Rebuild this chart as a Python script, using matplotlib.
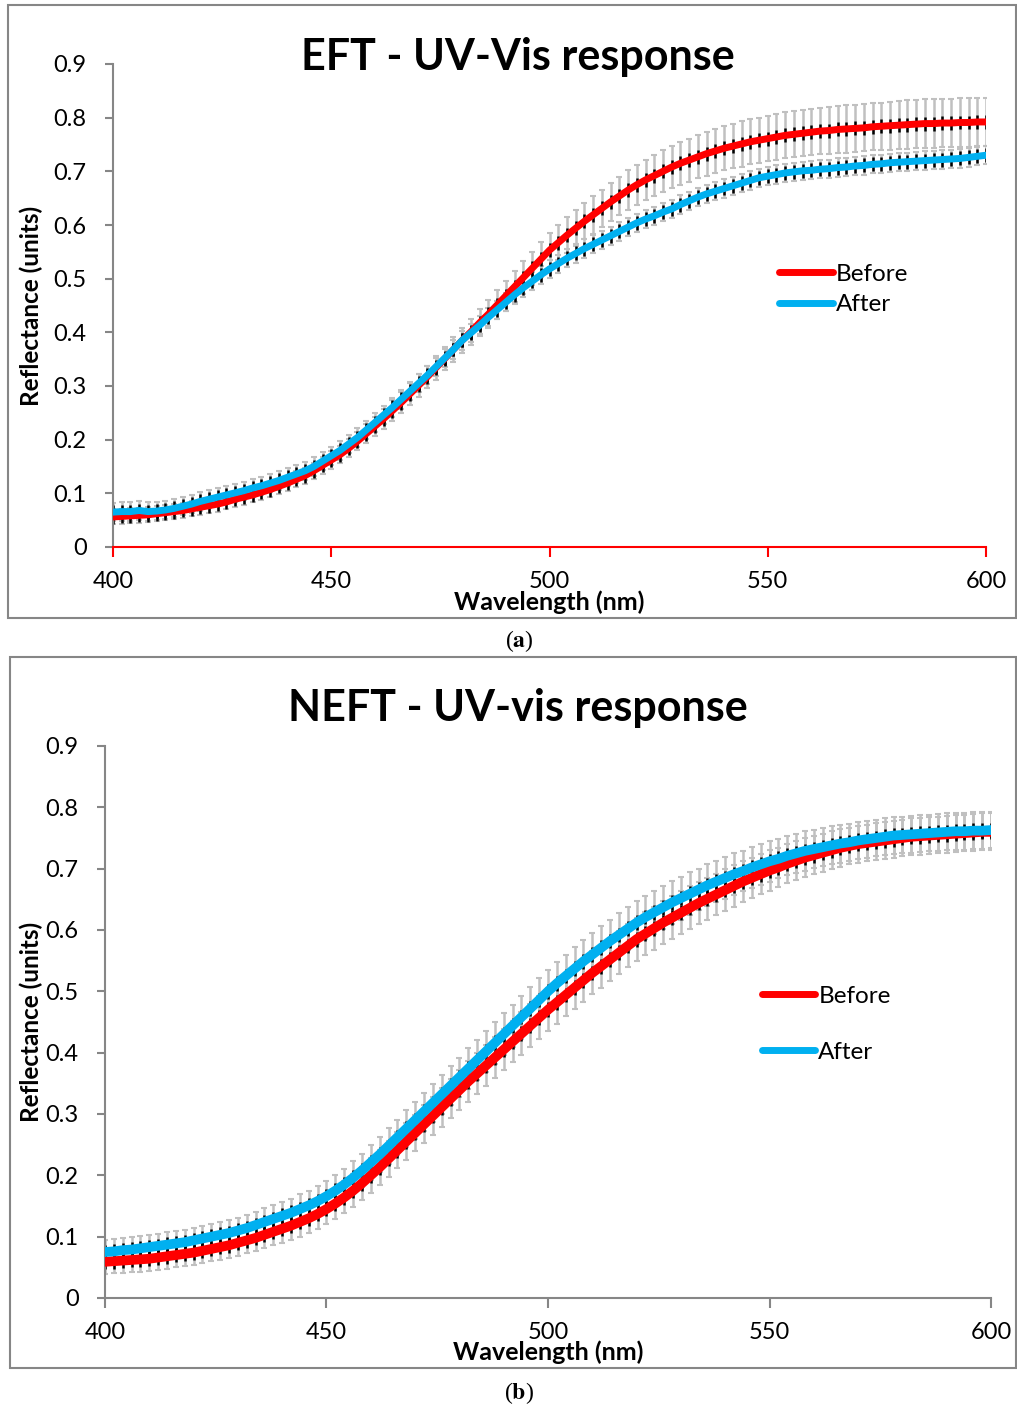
import numpy as np
import matplotlib
matplotlib.use("Agg")
import matplotlib.pyplot as plt
from matplotlib.patches import Rectangle

plt.rcParams['font.family'] = ['Lato', 'DejaVu Sans']
plt.rcParams['mathtext.fontset'] = 'stix'

# wavelength grid (nm), every 2 nm
wl = np.arange(400, 601, 2)

# panel (a) EFT
eft_before = [0.056, 0.057, 0.058, 0.059, 0.060, 0.062, 0.064, 0.066, 0.068, 0.071,
              0.074, 0.077, 0.080, 0.084, 0.089, 0.093, 0.097, 0.102, 0.107, 0.113,
              0.119, 0.126, 0.133, 0.142, 0.152, 0.162, 0.172, 0.184, 0.197, 0.211,
              0.225, 0.239, 0.254, 0.269, 0.285, 0.301, 0.317, 0.334, 0.351, 0.368,
              0.385, 0.401, 0.418, 0.434, 0.451, 0.468, 0.485, 0.502, 0.519, 0.536,
              0.553, 0.567, 0.581, 0.594, 0.607, 0.619, 0.631, 0.643, 0.654, 0.665,
              0.675, 0.684, 0.692, 0.700, 0.708, 0.715, 0.721, 0.727, 0.733, 0.738,
              0.743, 0.747, 0.751, 0.755, 0.758, 0.761, 0.764, 0.767, 0.769, 0.771,
              0.773, 0.775, 0.776, 0.778, 0.779, 0.780, 0.781, 0.783, 0.784, 0.785,
              0.786, 0.787, 0.788, 0.789, 0.789, 0.790, 0.790, 0.791, 0.791, 0.792, 0.792]
eft_after = [0.065, 0.066, 0.066, 0.068, 0.066, 0.067, 0.069, 0.072, 0.076, 0.080,
             0.085, 0.089, 0.093, 0.097, 0.101, 0.105, 0.110, 0.114, 0.119, 0.124,
             0.130, 0.136, 0.142, 0.150, 0.160, 0.170, 0.180, 0.192, 0.204, 0.218,
             0.232, 0.246, 0.260, 0.275, 0.290, 0.305, 0.320, 0.336, 0.352, 0.368,
             0.385, 0.399, 0.413, 0.428, 0.442, 0.456, 0.470, 0.483, 0.495, 0.507,
             0.518, 0.528, 0.538, 0.547, 0.556, 0.564, 0.572, 0.580, 0.588, 0.596,
             0.604, 0.611, 0.617, 0.624, 0.630, 0.638, 0.645, 0.652, 0.658, 0.663,
             0.668, 0.673, 0.678, 0.683, 0.688, 0.691, 0.694, 0.697, 0.699, 0.701,
             0.702, 0.704, 0.705, 0.707, 0.708, 0.710, 0.711, 0.713, 0.714, 0.716,
             0.717, 0.718, 0.719, 0.720, 0.721, 0.722, 0.723, 0.724, 0.726, 0.728, 0.730]
eft_before_sd = [0.014, 0.014, 0.014, 0.014, 0.014, 0.014, 0.014, 0.014, 0.014, 0.014,
                 0.014, 0.014, 0.014, 0.014, 0.014, 0.014, 0.014, 0.014, 0.014, 0.014,
                 0.014, 0.015, 0.015, 0.015, 0.016, 0.016, 0.016, 0.017, 0.017, 0.018,
                 0.018, 0.019, 0.019, 0.020, 0.020, 0.021, 0.021, 0.022, 0.022, 0.023,
                 0.023, 0.024, 0.025, 0.026, 0.027, 0.028, 0.029, 0.030, 0.031, 0.032,
                 0.032, 0.033, 0.033, 0.034, 0.034, 0.035, 0.035, 0.036, 0.036, 0.037,
                 0.037, 0.038, 0.038, 0.039, 0.039, 0.040, 0.040, 0.040, 0.041, 0.041,
                 0.041, 0.041, 0.042, 0.042, 0.042, 0.042, 0.043, 0.043, 0.043, 0.043,
                 0.043, 0.043, 0.044, 0.044, 0.044, 0.044, 0.044, 0.044, 0.044, 0.045,
                 0.045, 0.045, 0.045, 0.045, 0.045, 0.045, 0.045, 0.045, 0.045, 0.045, 0.045]
eft_after_sd = 0.017
eft_se = 0.013

# panel (b) NEFT
neft_before = [0.059, 0.060, 0.061, 0.062, 0.063, 0.064, 0.066, 0.068, 0.070, 0.072,
               0.074, 0.077, 0.080, 0.083, 0.086, 0.090, 0.094, 0.098, 0.103, 0.108,
               0.113, 0.118, 0.124, 0.130, 0.137, 0.145, 0.154, 0.164, 0.175, 0.187,
               0.200, 0.213, 0.227, 0.241, 0.255, 0.269, 0.283, 0.297, 0.311, 0.325,
               0.339, 0.353, 0.366, 0.379, 0.392, 0.405, 0.418, 0.431, 0.444, 0.457,
               0.470, 0.482, 0.494, 0.506, 0.518, 0.530, 0.541, 0.552, 0.563, 0.574,
               0.585, 0.594, 0.603, 0.612, 0.620, 0.628, 0.636, 0.644, 0.651, 0.658,
               0.665, 0.672, 0.679, 0.685, 0.691, 0.697, 0.702, 0.708, 0.713, 0.718,
               0.722, 0.726, 0.730, 0.734, 0.737, 0.740, 0.742, 0.744, 0.746, 0.748,
               0.750, 0.752, 0.753, 0.754, 0.755, 0.756, 0.757, 0.758, 0.759, 0.760, 0.760]
neft_after = [0.075, 0.076, 0.078, 0.079, 0.081, 0.083, 0.085, 0.087, 0.089, 0.091,
              0.094, 0.097, 0.100, 0.103, 0.106, 0.110, 0.114, 0.119, 0.124, 0.129,
              0.134, 0.139, 0.145, 0.151, 0.158, 0.166, 0.175, 0.185, 0.196, 0.208,
              0.221, 0.234, 0.248, 0.262, 0.276, 0.290, 0.304, 0.318, 0.332, 0.346,
              0.360, 0.374, 0.388, 0.402, 0.416, 0.430, 0.444, 0.458, 0.472, 0.486,
              0.500, 0.513, 0.525, 0.537, 0.549, 0.560, 0.571, 0.582, 0.592, 0.602,
              0.612, 0.621, 0.629, 0.637, 0.645, 0.652, 0.659, 0.666, 0.673, 0.679,
              0.685, 0.691, 0.696, 0.702, 0.707, 0.712, 0.716, 0.721, 0.725, 0.729,
              0.732, 0.735, 0.738, 0.741, 0.743, 0.746, 0.748, 0.750, 0.752, 0.754,
              0.755, 0.756, 0.757, 0.758, 0.759, 0.760, 0.761, 0.761, 0.762, 0.762, 0.763]
neft_sd = [0.020, 0.020, 0.020, 0.020, 0.020, 0.020, 0.020, 0.020, 0.020, 0.020,
           0.020, 0.020, 0.020, 0.021, 0.021, 0.021, 0.021, 0.022, 0.022, 0.022,
           0.023, 0.023, 0.024, 0.024, 0.025, 0.025, 0.026, 0.026, 0.027, 0.027,
           0.028, 0.028, 0.029, 0.029, 0.030, 0.030, 0.031, 0.031, 0.032, 0.032,
           0.032, 0.033, 0.033, 0.033, 0.034, 0.034, 0.034, 0.035, 0.035, 0.035,
           0.035, 0.035, 0.035, 0.035, 0.035, 0.035, 0.035, 0.035, 0.035, 0.035,
           0.035, 0.035, 0.035, 0.035, 0.035, 0.035, 0.035, 0.034, 0.034, 0.034,
           0.034, 0.034, 0.033, 0.033, 0.033, 0.033, 0.032, 0.032, 0.032, 0.032,
           0.031, 0.031, 0.031, 0.031, 0.030, 0.030, 0.030, 0.030, 0.030, 0.030,
           0.030, 0.030, 0.030, 0.030, 0.030, 0.030, 0.030, 0.030, 0.030, 0.030, 0.030]
neft_se = 0.012

RED = '#FF0000'
BLUE = '#00B0F0'
GRAY = '#C0C0C0'
AXGRAY = '#868686'

W, H = 1017, 1408
fig = plt.figure(figsize=(W / 100, H / 100), dpi=100)


def px_box(x0, y0, x1, y1):
    return [x0 / W, 1 - y1 / H, (x1 - x0) / W, (y1 - y0) / H]


# chart area frames
for (x0, y0, x1, y1) in [(8, 5, 1016, 618), (10, 657, 1016, 1368)]:
    fig.patches.append(Rectangle((x0 / W, 1 - y1 / H), (x1 - x0) / W, (y1 - y0) / H,
                                 transform=fig.transFigure, fill=False,
                                 edgecolor=AXGRAY, lw=1.5))


def draw_panel(ax, before, after, sd_b, sd_a, se, lw, xcol, title, title_xy, tsize,
               leg_xy, leg_space, xlab_y, ylab_x):
    ax.errorbar(wl, before, yerr=sd_b, fmt='none', ecolor=GRAY, elinewidth=1.8,
                capsize=2.5, capthick=1.5, zorder=1)
    ax.errorbar(wl, after, yerr=sd_a, fmt='none', ecolor=GRAY, elinewidth=1.8,
                capsize=2.5, capthick=1.5, zorder=1)
    ax.errorbar(wl, before, yerr=se, fmt='none', ecolor='black', elinewidth=1.8,
                capsize=0, zorder=2)
    ax.errorbar(wl, after, yerr=se, fmt='none', ecolor='black', elinewidth=1.8,
                capsize=0, zorder=2)
    ax.plot(wl, before, color=RED, lw=lw, label='Before', zorder=3,
            solid_capstyle='round')
    ax.plot(wl, after, color=BLUE, lw=lw, label='After', zorder=4,
            solid_capstyle='round')

    ax.set_xlim(400, 600)
    ax.set_ylim(0, 0.9)
    ax.set_xticks([400, 450, 500, 550, 600])
    ax.set_yticks(np.arange(0, 0.91, 0.1))
    ax.set_yticklabels(['0'] + ['%.1f' % v for v in np.arange(0.1, 0.91, 0.1)])
    for s in ['top', 'right']:
        ax.spines[s].set_visible(False)
    ax.spines['left'].set_color(AXGRAY)
    ax.spines['left'].set_linewidth(1.5)
    ax.spines['bottom'].set_color(xcol)
    ax.spines['bottom'].set_linewidth(1.5)
    ax.tick_params(axis='y', direction='out', length=6, width=1.5, color=AXGRAY,
                   labelsize=17, pad=13)
    ax.tick_params(axis='x', direction='out', length=7, width=1.5, color=xcol,
                   labelsize=17, pad=10)
    ax.set_xlabel('Wavelength (nm)', fontsize=18, fontweight='bold', va='center')
    ax.xaxis.set_label_coords(0.5, xlab_y)
    ax.set_ylabel('Reflectance (units)', fontsize=17.5, fontweight='bold')
    ax.yaxis.set_label_coords(ylab_x, 0.5)

    fig.text(title_xy[0] / W, 1 - title_xy[1] / H, title, fontsize=tsize,
             fontweight='bold', ha='center', va='center')

    leg = ax.legend(loc='center left', bbox_to_anchor=leg_xy, frameon=False,
                    fontsize=17.5, handlelength=2.2, handletextpad=0.12,
                    labelspacing=leg_space, borderpad=0, borderaxespad=0)
    for h in leg.get_lines():
        h.set_linewidth(5)


axa = fig.add_axes(px_box(113, 64, 986, 547))
draw_panel(axa, eft_before, eft_after, eft_before_sd, eft_after_sd, eft_se, 5, RED,
           'EFT - UV-Vis response', (518, 57), 31, (0.763, 0.533), 0.4,
           -0.114, -0.080)

axb = fig.add_axes(px_box(105, 746, 991, 1298))
draw_panel(axb, neft_before, neft_after, neft_sd, neft_sd, neft_se, 7, AXGRAY,
           'NEFT - UV-vis response', (518, 708), 31, (0.7415, 0.496), 1.45,
           -0.099, -0.070)

fig.text(519 / W, 1 - 641 / H, r'($\mathbf{a}$)', fontsize=17, ha='center',
         va='center', family='Liberation Serif')
fig.text(519 / W, 1 - 1393 / H, r'($\mathbf{b}$)', fontsize=17, ha='center',
         va='center', family='Liberation Serif')

fig.savefig('out.png', dpi=100)
